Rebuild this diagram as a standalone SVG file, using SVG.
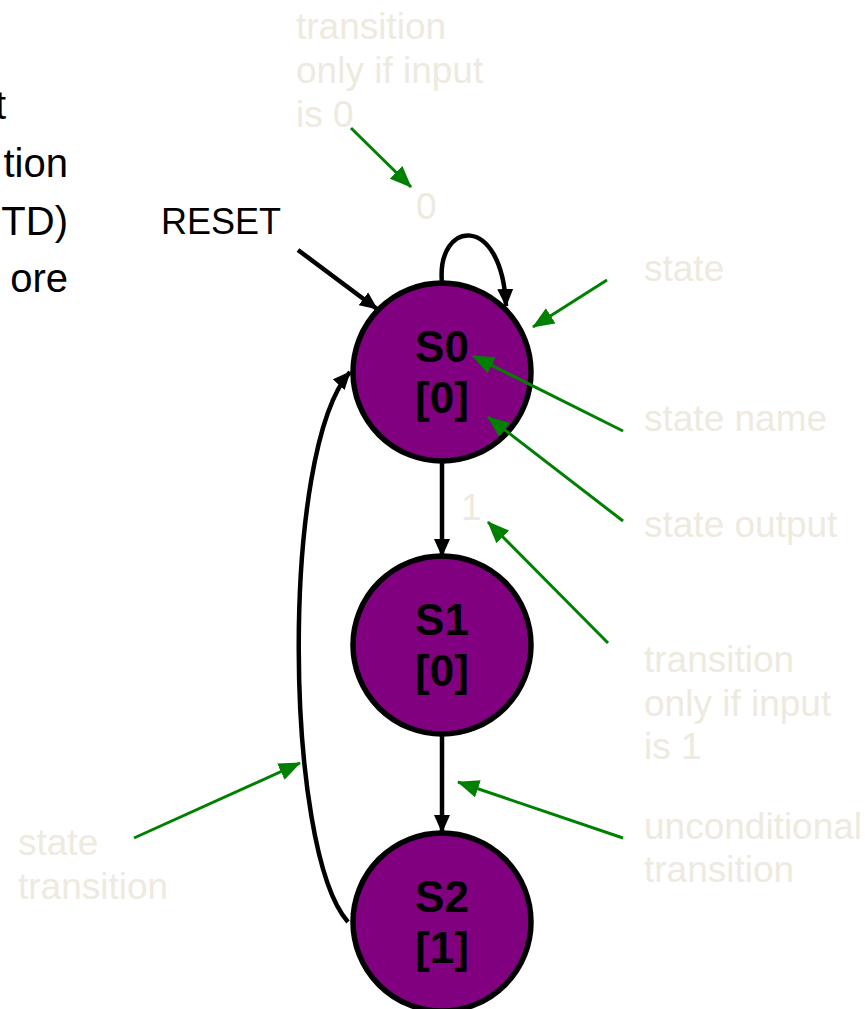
<svg xmlns="http://www.w3.org/2000/svg" width="865" height="1009" viewBox="0 0 865 1009">
<defs>
<style>
.node{fill:#800080;stroke:#000;stroke-width:5.5}
.nt{font-family:"Liberation Sans",Arial,sans-serif;font-weight:bold;font-size:44px;fill:#000;text-anchor:middle}
.note{font-family:"Liberation Sans",Arial,sans-serif;font-size:37px;fill:#EEEADF}
.blk{font-family:"Liberation Sans",Arial,sans-serif;font-size:40px;fill:#000}
.edge{fill:none;stroke:#000;stroke-width:4.5}
.ptr{fill:none;stroke:#008000;stroke-width:3}
</style>
<marker id="ah" markerWidth="18" markerHeight="16" refX="17" refY="8" orient="auto" markerUnits="userSpaceOnUse">
<path d="M0,0 L18,8 L0,16 Z" fill="#000"/>
</marker>
<marker id="gh" markerWidth="22" markerHeight="18" refX="21" refY="9" orient="auto" markerUnits="userSpaceOnUse">
<path d="M0,0 L22,9 L0,18 Z" fill="#008000"/>
</marker>
</defs>
<rect width="865" height="1009" fill="#fff"/>

<g id="title-fragment">
<text class="blk" x="6" y="119" text-anchor="end">t</text>
<text class="blk" x="68" y="177" text-anchor="end">tion</text>
<text class="blk" x="68" y="235" text-anchor="end">TD)</text>
<text class="blk" x="68" y="292" text-anchor="end">ore</text>
</g>

<g id="reset-label">
<text x="161" y="234" font-family="Liberation Sans, Arial, sans-serif" font-size="36" fill="#000">RESET</text>
</g>

<g id="connectors">
<line class="edge" x1="298" y1="250" x2="377" y2="309" marker-end="url(#ah)"/>
<path class="edge" d="M442,283 C436,220 502,212 506,306" marker-end="url(#ah)"/>
<line class="edge" x1="442" y1="461" x2="442" y2="556" marker-end="url(#ah)"/>
<line class="edge" x1="442" y1="734" x2="442" y2="832" marker-end="url(#ah)"/>
<path class="edge" d="M348,922 C284,850 280,450 350,372" marker-end="url(#ah)"/>
</g>

<g id="S0">
<circle class="node" cx="442" cy="372" r="89"/>
<text class="nt" x="442" y="362">S0</text>
<text class="nt" x="442" y="413">[0]</text>
</g>
<g id="S1">
<circle class="node" cx="442" cy="645" r="89"/>
<text class="nt" x="442" y="635">S1</text>
<text class="nt" x="442" y="686">[0]</text>
</g>
<g id="S2">
<circle class="node" cx="442" cy="922" r="89"/>
<text class="nt" x="442" y="912">S2</text>
<text class="nt" x="442" y="963">[1]</text>
</g>

<g id="annotation-pointers">
<line class="ptr" x1="351" y1="128" x2="411" y2="187" marker-end="url(#gh)"/>
<line class="ptr" x1="607" y1="280" x2="533" y2="327" marker-end="url(#gh)"/>
<line class="ptr" x1="623" y1="431" x2="473" y2="356" marker-end="url(#gh)"/>
<line class="ptr" x1="623" y1="521" x2="488" y2="417" marker-end="url(#gh)"/>
<line class="ptr" x1="608" y1="643" x2="488" y2="522" marker-end="url(#gh)"/>
<line class="ptr" x1="623" y1="838" x2="458" y2="782" marker-end="url(#gh)"/>
<line class="ptr" x1="134" y1="838" x2="300" y2="763" marker-end="url(#gh)"/>
</g>

<g id="annotations">
<text class="note" x="296" y="39">transition</text>
<text class="note" x="296" y="83">only if input</text>
<text class="note" x="296" y="127">is 0</text>
<text class="note" x="416" y="219">0</text>
<text class="note" x="644" y="281">state</text>
<text class="note" x="644" y="431">state name</text>
<text class="note" x="644" y="537">state output</text>
<text class="note" x="461" y="520">1</text>
<text class="note" x="644" y="672">transition</text>
<text class="note" x="644" y="716">only if input</text>
<text class="note" x="644" y="759">is 1</text>
<text class="note" x="644" y="839">unconditional</text>
<text class="note" x="644" y="882">transition</text>
<text class="note" x="18" y="855">state</text>
<text class="note" x="18" y="899">transition</text>
</g>
</svg>
